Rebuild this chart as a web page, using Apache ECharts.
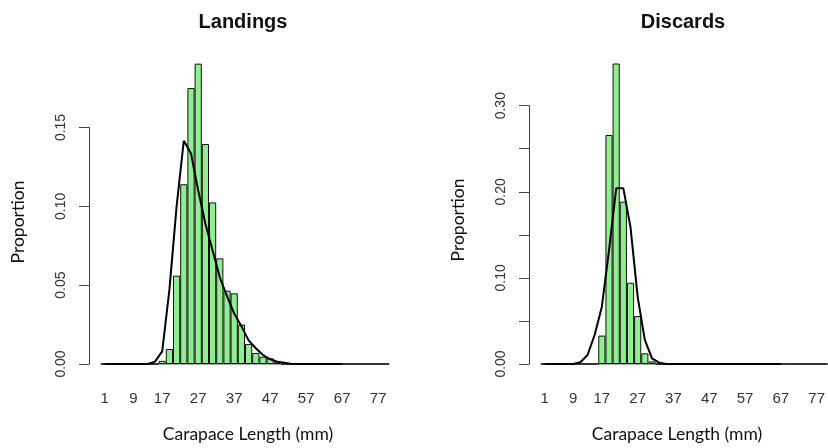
<!DOCTYPE html>
<html>
<head>
<meta charset="utf-8">
<script src="https://cdn.jsdelivr.net/npm/echarts@6/dist/echarts.min.js"></script>
<style>html,body{margin:0;padding:0;background:#fff}#c{width:828px;height:448px}</style>
</head>
<body>
<div id="c"></div>
<script>
// Carapace length bins (mm), 2 mm classes
const categories = ['1','3','5','7','9','11','13','15','17','19','21','23','25','27','29','31','33','35','37','39','41','43','45','47','49','51','53','55','57','59','61','63','65','67','69','71','73','75','77','79'];
const shownXLabels = ['1','9','17','27','37','47','57','67','77'];

const landingsBars = [0,0,0,0,0,0,0,0,0.002,0.0095,0.056,0.114,0.175,0.1905,0.1395,0.1025,0.067,0.0465,0.0448,0.025,0.0127,0.007,0.0046,0.0036,0.0015,0,0,0,0,0,0,0,0,0,0,0,0,0,0,0];
const landingsCurve = [0,0,0,0,0,0,0,0.0015,0.008,0.047,0.100,0.1416,0.1335,0.110,0.089,0.072,0.055,0.043,0.032,0.024,0.015,0.010,0.0057,0.003,0.0015,0.0008,0,0,0,0,0,0,0,0,null,null,null,null,null,null];

const discardsBars = [0,0,0,0,0,0,0,0,0.033,0.266,0.349,0.1885,0.0944,0.0557,0.0124,0.003,0,0,0,0,0,0,0,0,0,0,0,0,0,0,0,0,0,0,0,0,0,0,0,0];
const discardsCurve = [0,0,0,0,0,0.002,0.0105,0.034,0.0666,0.132,0.204,0.204,0.159,0.078,0.028,0.0066,0.0015,0,0,0,0,0,0,0,0,0,0,0,0,0,0,0,0,0,null,null,null,null,null,null];

const landingsTicks = ['0.00','0.05','0.10','0.15'];
const discardsTicks = ['0.00','0.10','0.20','0.30'];

const chart = echarts.init(document.getElementById('c'), null, {renderer:'canvas'});
const tickFont = {fontFamily:'Liberation Sans, Arial', fontSize:14, color:'#333'};

function xAxis(gi){
  return {
    type:'category', gridIndex:gi, data:categories, boundaryGap:true,
    axisLine:{show:true, lineStyle:{color:'#8a8a8a', width:1.5}},
    axisTick:{show:false},
    axisLabel:Object.assign({}, tickFont, {
      interval:(i,v)=>shownXLabels.indexOf(v)>=0, margin:27, fontSize:15
    }),
    splitLine:{show:false}
  };
}
function yAxis(gi, max, ticks){
  return {
    type:'value', gridIndex:gi, min:0, max:max, interval:0.05, offset:12,
    axisLine:{show:true, lineStyle:{color:'#444', width:1}},
    axisTick:{show:true, length:10, lineStyle:{color:'#444'}},
    axisLabel:Object.assign({
      rotate:90, margin:21,
      formatter:v=>{const s=v.toFixed(2); return ticks.indexOf(s)>=0?s:'';}
    }, tickFont),
    splitLine:{show:false}
  };
}
function bars(gi, data){
  return {type:'bar', xAxisIndex:gi, yAxisIndex:gi, data:data, barCategoryGap:'0%', clip:false,
    itemStyle:{color:'#90EE90', borderColor:'#111', borderWidth:1}, silent:true, animation:false};
}
function curve(gi, data){
  return {type:'line', xAxisIndex:gi, yAxisIndex:gi, data:data, symbol:'none', clip:false, z:5,
    lineStyle:{color:'#000', width:2}, connectNulls:false, silent:true, animation:false};
}
function txt(text, x, y, font, rot){
  return {type:'text', x:x, y:y, rotation:rot||0, z:10,
    style:{text:text, font:font, fill:'#111', align:'center', verticalAlign:'middle', textAlign:'center', textVerticalAlign:'middle'}};
}

chart.setOption({
  animation:false,
  backgroundColor:'#fff',
  grid:[
    {left:101, width:288, top:127.5, bottom:84, containLabel:false},
    {left:541, width:287, top:105.7, bottom:84, containLabel:false}
  ],
  xAxis:[xAxis(0), xAxis(1)],
  yAxis:[yAxis(0, 0.15, landingsTicks), yAxis(1, 0.30, discardsTicks)],
  series:[bars(0, landingsBars), curve(0, landingsCurve), bars(1, discardsBars), curve(1, discardsCurve)],
  graphic:[
    txt('Landings', 243, 22, 'bold 20px "Liberation Sans", Arial'),
    txt('Discards', 683, 22, 'bold 20px "Liberation Sans", Arial'),
    txt('Carapace Length (mm)', 248, 434, '17.5px Lato'),
    txt('Carapace Length (mm)', 677, 434, '17.5px Lato'),
    txt('Proportion', 18, 222, '17.5px Lato', Math.PI/2),
    txt('Proportion', 458, 220, '17.5px Lato', Math.PI/2)
  ]
});
</script>
</body>
</html>
